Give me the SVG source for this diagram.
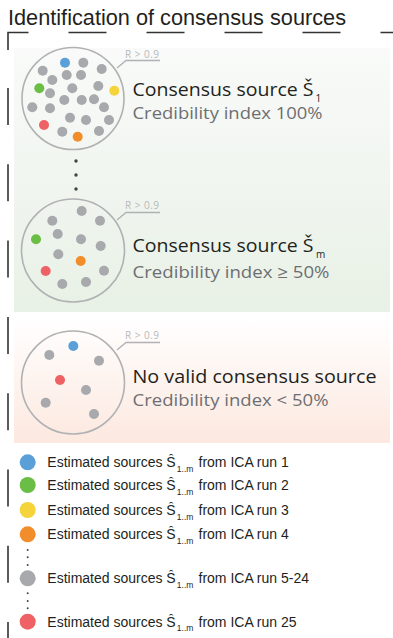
<svg xmlns="http://www.w3.org/2000/svg" width="393" height="638" viewBox="0 0 393 638">
<defs>
<linearGradient id="gGreen" x1="0" y1="0" x2="0" y2="1"><stop offset="0" stop-color="#f9faf9"/><stop offset="1" stop-color="#e8f1e6"/></linearGradient>
<linearGradient id="gPeach" x1="0" y1="0" x2="0" y2="1"><stop offset="0" stop-color="#ffffff"/><stop offset="1" stop-color="#fce8df"/></linearGradient>
<style>
.frame{fill:none;stroke:#333;stroke-width:1.6}
.ring{fill:none;stroke:#b0b1b3;stroke-width:1.6}
.lead{fill:none;stroke:#b0b1b3;stroke-width:1.3}
.rlab{font-family:"Open Sans","Noto Sans",sans-serif;font-size:10px;fill:#b8b9bb}
.head{font-family:"Open Sans","Noto Sans",sans-serif;font-size:19px;fill:#231f20}
.hsub{font-family:"Open Sans","Noto Sans",sans-serif;font-size:10px;fill:#231f20}
.sub{font-family:"Open Sans","Noto Sans",sans-serif;font-size:17px;fill:#6d6e71}
.leg{font-family:"Liberation Sans",Arial,sans-serif;font-size:14px;fill:#231f20}
.lsub{font-family:"Liberation Sans",Arial,sans-serif;font-size:8.5px;fill:#231f20}
.title{font-family:"Liberation Sans",Arial,sans-serif;font-size:21.5px;fill:#231f20}
.g{fill:#a7a9ac}.b{fill:#5b9fd9}.gr{fill:#6abd45}.y{fill:#f5d33a}.o{fill:#f18d2a}.r{fill:#ee6265}
.dd{fill:#444}
</style>
</defs>
<text class="title" x="8" y="25" textLength="338" lengthAdjust="spacingAndGlyphs">Identification of consensus sources</text>
<g id="frame">
<path class="frame" d="M8 50 V32.5 H393" stroke-dasharray="38 40"/>
<path class="frame" d="M8 88 V638" stroke-dasharray="37 39.3"/>
</g>
<rect x="14" y="48" width="376" height="264" fill="url(#gGreen)"/>
<rect x="14" y="318" width="376" height="125" fill="url(#gPeach)"/>
<g id="cluster1">
<circle class="ring" cx="73" cy="98.5" r="51"/>
<path class="lead" d="M117 68 L126 60.5 H160"/>
<text class="rlab" x="125" y="57.5" textLength="34">R &gt; 0.9</text>
<g>
<circle class="b" cx="65" cy="62.7" r="5"/>
<circle class="g" cx="83.3" cy="62.7" r="5"/>
<circle class="g" cx="42.7" cy="70.7" r="5"/>
<circle class="g" cx="101.7" cy="69" r="5"/>
<circle class="g" cx="66.7" cy="75" r="5"/>
<circle class="g" cx="81" cy="75" r="5"/>
<circle class="g" cx="52.3" cy="80" r="5"/>
<circle class="gr" cx="39.3" cy="88.3" r="5"/>
<circle class="g" cx="72.3" cy="88.3" r="5"/>
<circle class="g" cx="98.3" cy="86" r="5"/>
<circle class="y" cx="114.3" cy="90.7" r="5"/>
<circle class="g" cx="50" cy="93.3" r="5"/>
<circle class="g" cx="32.3" cy="107.3" r="5"/>
<circle class="g" cx="64.3" cy="100" r="5"/>
<circle class="g" cx="81.7" cy="100" r="5"/>
<circle class="g" cx="94" cy="99.3" r="5"/>
<circle class="g" cx="50" cy="108.3" r="5"/>
<circle class="g" cx="104" cy="107.3" r="5"/>
<circle class="g" cx="70" cy="117.7" r="5"/>
<circle class="g" cx="86" cy="120" r="5"/>
<circle class="g" cx="109" cy="120" r="5"/>
<circle class="r" cx="44" cy="125" r="5"/>
<circle class="g" cx="62.3" cy="131.7" r="5"/>
<circle class="o" cx="77.7" cy="136.7" r="5"/>
<circle class="g" cx="99" cy="131" r="5"/>
</g>
<text class="head" x="132.5" y="95.5" textLength="181" lengthAdjust="spacingAndGlyphs">Consensus source Š</text>
<text class="hsub" x="315.5" y="102">1</text>
<text class="sub" x="132.5" y="119" textLength="190" lengthAdjust="spacingAndGlyphs">Credibility index 100%</text>
</g>
<g id="ellipsis">
<circle class="dd" cx="76" cy="161" r="1.7"/>
<circle class="dd" cx="76" cy="175" r="1.7"/>
<circle class="dd" cx="76" cy="189" r="1.7"/>
</g>
<g id="cluster2">
<circle class="ring" cx="73" cy="250.5" r="51.5"/>
<path class="lead" d="M117 220 L126 212.5 H160"/>
<text class="rlab" x="125" y="208.5" textLength="34">R &gt; 0.9</text>
<circle class="g" cx="81.7" cy="211" r="5"/>
<circle class="g" cx="52.3" cy="220.7" r="5"/>
<circle class="g" cx="100" cy="220.7" r="5"/>
<circle class="g" cx="57.7" cy="234" r="5"/>
<circle class="gr" cx="36" cy="239.3" r="5"/>
<circle class="g" cx="81" cy="239.3" r="5"/>
<circle class="g" cx="100.7" cy="246" r="5"/>
<circle class="g" cx="58.3" cy="254.3" r="5"/>
<circle class="o" cx="80.7" cy="261" r="5"/>
<circle class="r" cx="45.7" cy="271" r="5"/>
<circle class="g" cx="104" cy="270.7" r="5"/>
<circle class="g" cx="62.3" cy="284" r="5"/>
<circle class="g" cx="86" cy="282" r="5"/>
<text class="head" x="132.5" y="252" textLength="181" lengthAdjust="spacingAndGlyphs">Consensus source Š</text>
<text class="hsub" x="316" y="258">m</text>
<text class="sub" x="132.5" y="277.5" textLength="197" lengthAdjust="spacingAndGlyphs">Credibility index ≥ 50%</text>
</g>
<g id="cluster3">
<circle class="ring" cx="73" cy="382.5" r="51.5"/>
<path class="lead" d="M117 350 L126 342.5 H160"/>
<text class="rlab" x="125" y="339" textLength="34">R &gt; 0.9</text>
<circle class="b" cx="73.3" cy="346" r="5"/>
<circle class="g" cx="49.3" cy="355" r="5"/>
<circle class="g" cx="99" cy="360.7" r="5"/>
<circle class="r" cx="60" cy="380" r="5"/>
<circle class="g" cx="86" cy="390" r="5"/>
<circle class="g" cx="45.7" cy="402.7" r="5"/>
<circle class="g" cx="94" cy="414" r="5"/>
<text class="head" x="132.5" y="383" textLength="244" lengthAdjust="spacingAndGlyphs">No valid consensus source</text>
<text class="sub" x="132.5" y="405.5" textLength="196" lengthAdjust="spacingAndGlyphs">Credibility index &lt; 50%</text>
</g>
<g id="legend">
<circle class="b" cx="27.7" cy="462.3" r="8"/>
<circle class="gr" cx="27.7" cy="485" r="8"/>
<circle class="y" cx="27.7" cy="510" r="8"/>
<circle class="o" cx="27.7" cy="534.3" r="8"/>
<circle class="g" cx="27.7" cy="578.3" r="8"/>
<circle class="r" cx="27.7" cy="621.7" r="8"/>
<circle class="dd" cx="27.7" cy="550" r="1"/>
<circle class="dd" cx="27.7" cy="557.3" r="1"/>
<circle class="dd" cx="27.7" cy="565" r="1"/>
<circle class="dd" cx="27.7" cy="593.3" r="1"/>
<circle class="dd" cx="27.7" cy="601" r="1"/>
<circle class="dd" cx="27.7" cy="608.3" r="1"/>
<text class="leg" x="47.3" y="467.3">Estimated sources Ŝ</text><text class="lsub" x="176.8" y="471.8">1..m</text><text class="leg" x="198.5" y="467.3">from ICA run 1</text>
<text class="leg" x="47.3" y="490">Estimated sources Ŝ</text><text class="lsub" x="176.8" y="494.5">1..m</text><text class="leg" x="198.5" y="490">from ICA run 2</text>
<text class="leg" x="47.3" y="515">Estimated sources Ŝ</text><text class="lsub" x="176.8" y="519.5">1..m</text><text class="leg" x="198.5" y="515">from ICA run 3</text>
<text class="leg" x="47.3" y="539.3">Estimated sources Ŝ</text><text class="lsub" x="176.8" y="543.8">1..m</text><text class="leg" x="198.5" y="539.3">from ICA run 4</text>
<text class="leg" x="47.3" y="583.3">Estimated sources Ŝ</text><text class="lsub" x="176.8" y="587.8">1..m</text><text class="leg" x="198.5" y="583.3">from ICA run 5-24</text>
<text class="leg" x="47.3" y="626.7">Estimated sources Ŝ</text><text class="lsub" x="176.8" y="631.2">1..m</text><text class="leg" x="198.5" y="626.7">from ICA run 25</text>
</g>
</svg>
